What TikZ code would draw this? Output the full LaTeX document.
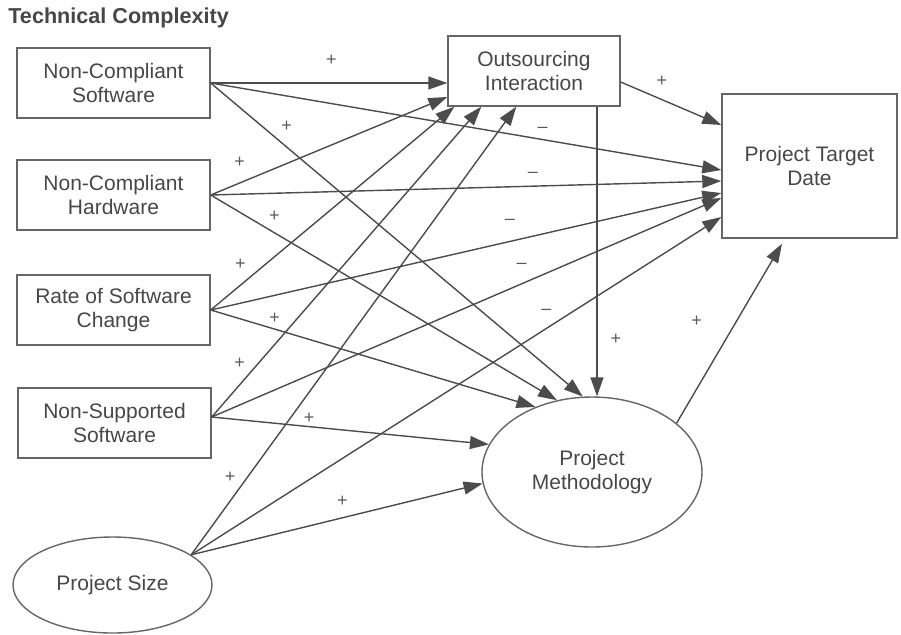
\documentclass[tikz,border=0pt]{standalone}
\usepackage{fontspec}
\setmainfont{Liberation Sans}
\usetikzlibrary{shapes,arrows.meta}

\begin{document}
\begin{tikzpicture}[x=0.5pt,y=-0.5pt,
  box/.style={shape=rectangle,draw=black!60,line width=0.7pt,align=center,text=black!72,font=\fontsize{10.5}{12}\selectfont,inner sep=0pt},
  oval/.style={shape=ellipse,draw=black!60,line width=0.7pt,align=center,text=black!72,font=\fontsize{10.5}{12}\selectfont,inner sep=0pt},
  arr/.style={-{Triangle[length=9.5pt,width=6.5pt]},draw=black!70,fill=black!70,line width=0.7pt},
  sgn/.style={text=black!65,fill=none,font=\fontsize{9}{9}\selectfont,inner sep=0pt}]
\useasboundingbox (0,0) rectangle (901,634);
\node[anchor=base west,text=black!72,font=\bfseries\fontsize{10.8}{13}\selectfont,inner sep=0pt] (title) at (8,23) {Technical Complexity};

\node[box,minimum width=96.5pt,minimum height=35pt] (ncs) at (113.5,83) {Non-Compliant\\Software};
\node[box,minimum width=96.5pt,minimum height=35pt] (nch) at (113.5,195) {Non-Compliant\\Hardware};
\node[box,minimum width=96.5pt,minimum height=35pt] (rsc) at (113.5,310) {Rate of Software\\Change};
\node[box,minimum width=96.5pt,minimum height=35pt] (nss) at (114.5,423) {Non-Supported\\Software};
\node[oval,minimum width=99.5pt,minimum height=48pt] (ps) at (112.5,585) {Project Size};
\node[box,minimum width=86pt,minimum height=35pt] (oi) at (534,71) {Outsourcing\\Interaction};
\node[box,minimum width=87.5pt,minimum height=72pt] (ptd) at (809.5,166) {Project Target\\Date};
\node[oval,minimum width=110pt,minimum height=75pt] (pm) at (592,472) {Project\\Methodology};

% into outsourcing interaction
\draw [arr] (ncs.east) -- node[sgn,pos=0.51,yshift=11.5pt] {+} (oi.west |- ncs.east);
\draw [arr] (nch.east) -- node[sgn,pos=0.122,yshift=10.5pt] {+} ([yshift=-13pt]oi.west);
\draw [arr] (rsc.east) -- node[sgn,pos=0.122,yshift=10.5pt] {+} ([xshift=3.5pt]oi.south west);
\draw [arr] ([yshift=3pt]nss.east) -- node[sgn,pos=0.104,yshift=10.5pt] {+} ([xshift=17pt]oi.south west);
\draw [arr] (ps.21) -- node[sgn,pos=0.172,xshift=-8.5pt] {+} ([xshift=34.5pt]oi.south west);

% into project target date
\draw [arr] (ncs.east) -- node[sgn,pos=0.65,yshift=5pt] {–} ([yshift=-2pt]ptd.west);
\draw [arr] (nch.east) -- node[sgn,pos=0.631,yshift=5.5pt] {–} ([yshift=-7.5pt]ptd.west);
\draw [arr] (rsc.east) -- node[sgn,pos=0.586,yshift=10pt] {–} ([yshift=-13.5pt]ptd.west);
\draw [arr] ([yshift=3pt]nss.east) -- node[sgn,pos=0.608,yshift=9pt] {–} ([yshift=-16pt]ptd.west);
\draw [arr] (ps.21) -- node[sgn,pos=0.67,yshift=8.5pt] {–} ([yshift=-25.5pt]ptd.west);
\draw [arr] ([yshift=-5.5pt]oi.east) -- node[sgn,pos=0.41,yshift=9pt] {+} ([yshift=20.5pt]ptd.west);

% into project methodology
\draw [arr] (ncs.east) -- node[sgn,pos=0.204,yshift=10.5pt] {+} (pm.97);
\draw [arr] (nch.east) -- node[sgn,pos=0.184,yshift=8pt] {+} (pm.116);
\draw [arr] (rsc.east) -- node[sgn,pos=0.197,yshift=5.5pt] {+} (pm.131);
\draw [arr] ([yshift=3pt]nss.east) -- node[sgn,pos=0.351,yshift=4pt] {+} (pm.165);
\draw [arr] (ps.21) -- node[sgn,pos=0.519,yshift=8.5pt] {+} (pm.186);
\draw [arr] ([xshift=31.5pt]oi.south) -- node[sgn,pos=0.804,xshift=9.5pt] {+} ([xshift=31.5pt]oi.south |- pm.north);
\draw [arr] (pm.30) -- node[sgn,pos=0.57,xshift=-20pt] {+} ([xshift=-13.75pt,yshift=-2.5pt]ptd.south);
\end{tikzpicture}
\end{document}
